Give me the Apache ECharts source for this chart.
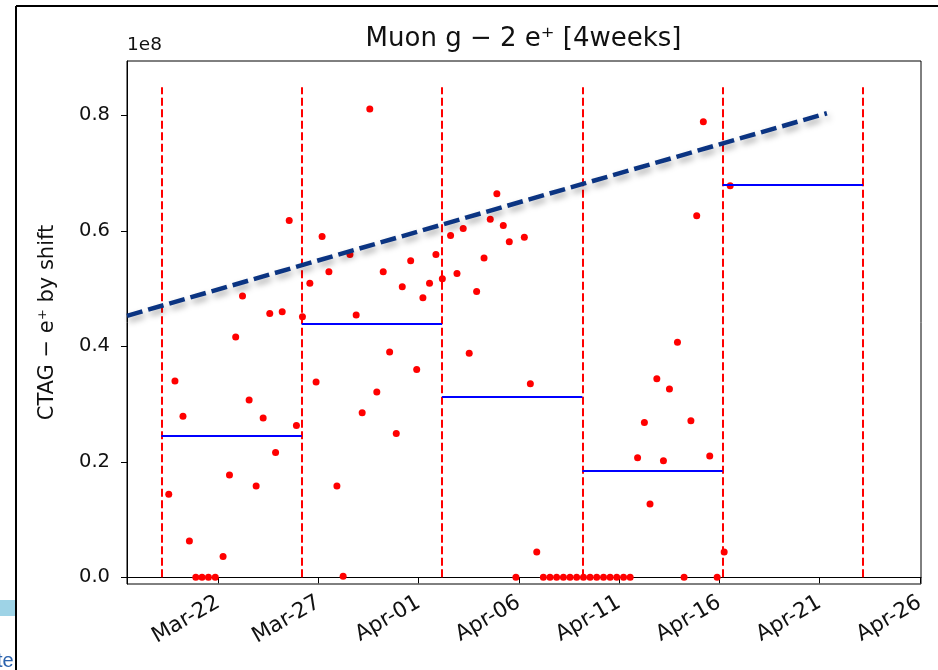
<!DOCTYPE html>
<html><head><meta charset="utf-8">
<script src="https://cdn.jsdelivr.net/npm/echarts@6/dist/echarts.min.js"></script>
<style>html,body{margin:0;padding:0;background:#fff}#c{width:938px;height:670px}</style>
</head><body><div id="c"></div>
<script>
// x values are days after Mar 1 00:00 (Mar-22 = 21)
const xTickDays = [21, 26, 31, 36, 41, 46, 51, 56];
const xTickLabels = ['Mar-22', 'Mar-27', 'Apr-01', 'Apr-06', 'Apr-11', 'Apr-16', 'Apr-21', 'Apr-26'];
const yTicks = [0, 0.2, 0.4, 0.6, 0.8];           // in units of 1e8
const xRange = [16.447, 56.06];
const yRange = [-0.0116, 0.894];

const shiftDays = [
  18.53, 18.84, 19.24, 19.56, 19.88, 20.19, 20.51, 20.85,
  21.24, 21.56, 21.87, 22.21, 22.54, 22.89,
  23.24, 23.57, 23.86, 24.19, 24.54, 24.90,
  25.20, 25.57, 25.88, 26.18, 26.52, 26.92,
  27.23, 27.57, 27.88, 28.18, 28.56, 28.91,
  29.23, 29.55, 29.88, 30.18, 30.60, 30.90,
  31.21, 31.54, 31.86, 32.18, 32.59, 32.91,
  33.22, 33.52, 33.89, 34.26, 34.57, 34.90,
  35.22, 35.52, 35.85, 36.27, 36.57, 36.89,
  37.22, 37.55, 37.88, 38.22, 38.55, 38.88, 39.22, 39.55, 39.88, 40.22, 40.55, 40.88, 41.22, 41.55,
  41.92, 42.26, 42.54, 42.88, 43.21, 43.51, 43.91, 44.24, 44.58, 44.87, 45.20, 45.52, 45.89, 46.24, 46.54
];
const shiftValues = [
  0.144, 0.340, 0.279, 0.063, 0, 0, 0, 0,
  0.036, 0.177, 0.416, 0.487, 0.307, 0.158,
  0.276, 0.457, 0.216, 0.460, 0.618, 0.263,
  0.451, 0.509, 0.338, 0.590, 0.529, 0.158,
  0.002, 0.559, 0.454, 0.285, 0.811, 0.321,
  0.529, 0.390, 0.249, 0.503, 0.548, 0.360,
  0.484, 0.509, 0.559, 0.517, 0.592, 0.526,
  0.604, 0.388, 0.495, 0.553, 0.620, 0.664,
  0.609, 0.581, 0, 0.589, 0.335, 0.044,
  0, 0, 0, 0, 0, 0, 0, 0, 0, 0, 0, 0, 0, 0,
  0.207, 0.268, 0.127, 0.344, 0.202, 0.326, 0.407, 0, 0.271, 0.626, 0.789, 0.210, 0, 0.044, 0.678
];
const weekBoundaries = [18.164, 25.164, 32.164, 39.164, 46.164, 53.164];
const boundaryTop = 0.8485;
const weekMeans = [0.2452, 0.4386, 0.3127, 0.1846, 0.6793];
const trendDays = [16.447, 51.365];
const trendValues = [0.4528, 0.8035];
const titleText = 'Muon g − 2 e⁺ [4weeks]';

const chart = echarts.init(document.getElementById('c'), null, {renderer: 'canvas'});
const FONT = "'DejaVu Sans', sans-serif";

const vLines = weekBoundaries.map(d => [{coord: [d, 0]}, {coord: [d, boundaryTop]}]);
const hLines = weekMeans.map((m, i) => [{coord: [weekBoundaries[i], m]}, {coord: [weekBoundaries[i + 1], m]}]);

chart.setOption({
  animation: false,
  backgroundColor: '#fff',
  grid: {left: 127, top: 61, right: 17, bottom: 86, show: true, borderColor: '#000', borderWidth: 1},
  xAxis: {
    type: 'value', min: xRange[0], max: xRange[1],
    splitLine: {show: false},
    axisLine: {show: true, lineStyle: {color: '#000', width: 1}},
    axisTick: {show: true, length: 6, lineStyle: {color: '#000'}, customValues: xTickDays},
    axisLabel: {
      customValues: xTickDays, rotate: 30, margin: 17,
      fontFamily: FONT, fontSize: 21.5, color: '#111',
      formatter: v => xTickLabels[xTickDays.indexOf(Math.round(v))] || ''
    }
  },
  yAxis: {
    type: 'value', min: yRange[0], max: yRange[1],
    name: 'CTAG − e⁺ by shift', nameLocation: 'middle', nameGap: 69,
    nameTextStyle: {fontFamily: FONT, fontSize: 21, color: '#111'},
    splitLine: {show: false},
    axisLine: {show: true, lineStyle: {color: '#000', width: 1}},
    axisTick: {show: true, length: 6, lineStyle: {color: '#000'}, customValues: yTicks},
    axisLabel: {
      customValues: yTicks, margin: 17,
      fontFamily: FONT, fontSize: 19.5, color: '#111',
      formatter: v => v.toFixed(1)
    }
  },
  series: [
    {
      type: 'line', data: [], silent: true,
      markLine: {
        silent: true, symbol: ['none', 'none'], label: {show: false},
        lineStyle: {color: '#ff0000', width: 2, type: [8, 3.5], opacity: 1},
        emphasis: {disabled: true},
        data: vLines
      }
    },
    {
      type: 'line', data: [], silent: true,
      markLine: {
        silent: true, symbol: ['none', 'none'], label: {show: false},
        lineStyle: {color: '#0000ff', width: 2.2, type: 'solid', opacity: 1},
        emphasis: {disabled: true},
        data: hLines
      }
    },
    {
      type: 'scatter', silent: true, symbol: 'circle', symbolSize: 7,
      itemStyle: {color: '#ff0000', opacity: 1},
      data: shiftDays.map((d, i) => [d, shiftValues[i]]),
      z: 3
    },
    {
      type: 'line', silent: true, symbol: 'none', clip: false,
      data: trendDays.map((d, i) => [d, trendValues[i]]),
      lineStyle: {color: '#0b3482', width: 4.5, type: [16, 6],
        shadowColor: 'rgba(0,0,0,0.35)', shadowBlur: 6, shadowOffsetX: 2, shadowOffsetY: 4},
      z: 5
    }
  ],
  graphic: [
    {type: 'text', x: 523.5, y: 26, style: {text: titleText, font: "26px 'DejaVu Sans', sans-serif", fill: '#111', align: 'center', verticalAlign: 'top'}},
    {type: 'text', left: 127, top: 36, style: {text: '1e8', font: "18.5px 'DejaVu Sans', sans-serif", fill: '#111'}},
    {type: 'rect', shape: {x: 0, y: 600, width: 15, height: 16}, style: {fill: '#9ed3e6'}},
    {type: 'text', left: -3, top: 651, style: {text: 'te', font: "20px 'Liberation Sans', sans-serif", fill: '#2a62ad'}},
    {type: 'line', shape: {x1: 16, y1: 6, x2: 16, y2: 670}, style: {stroke: '#000', lineWidth: 2}},
    {type: 'line', shape: {x1: 16, y1: 6, x2: 938, y2: 6}, style: {stroke: '#000', lineWidth: 2}}
  ]
});
</script>
</body></html>
